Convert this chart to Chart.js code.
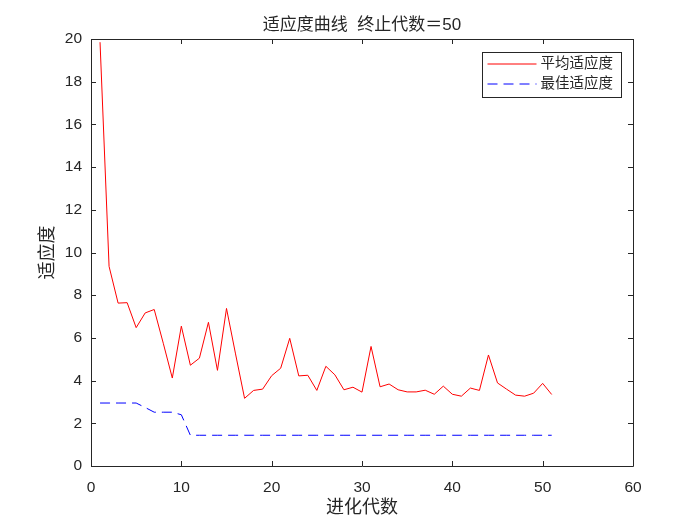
<!DOCTYPE html>
<html>
<head>
<meta charset="utf-8">
<script src="https://cdn.jsdelivr.net/npm/chart.js@4.4.1/dist/chart.umd.min.js"></script>
<style>
html,body{margin:0;padding:0;background:#fff;}
#wrap{width:700px;height:525px;}
</style>
</head>
<body>
<div id="wrap"><canvas id="c" width="700" height="525"></canvas></div>
<script>
const generations = [1,2,3,4,5,6,7,8,9,10,11,12,13,14,15,16,17,18,19,20,21,22,23,24,25,26,27,28,29,30,31,32,33,34,35,36,37,38,39,40,41,42,43,44,45,46,47,48,49,50,51];
const avgFitness = [19.85,9.35,7.63,7.65,6.48,7.17,7.33,5.75,4.12,6.55,4.72,5.05,6.73,4.48,7.38,5.25,3.17,3.54,3.60,4.23,4.58,5.98,4.22,4.25,3.54,4.67,4.27,3.57,3.69,3.46,5.60,3.71,3.84,3.57,3.47,3.47,3.55,3.36,3.74,3.36,3.27,3.65,3.54,5.20,3.89,3.60,3.32,3.27,3.41,3.87,3.35];
const bestFitness = [2.95,2.95,2.95,2.95,2.95,2.74,2.52,2.52,2.52,2.40,1.44,1.44,1.44,1.44,1.44,1.44,1.44,1.44,1.44,1.44,1.44,1.44,1.44,1.44,1.44,1.44,1.44,1.44,1.44,1.44,1.44,1.44,1.44,1.44,1.44,1.44,1.44,1.44,1.44,1.44,1.44,1.44,1.44,1.44,1.44,1.44,1.44,1.44,1.44,1.44,1.44];
const seriesLabels = ['平均适应度','最佳适应度'];
const titleText = '适应度曲线  终止代数＝50';
const xTitle = '进化代数';
const yTitle = '适应度';

const FONT = "'Liberation Sans', 'Noto Sans CJK SC', sans-serif";
const AX = '#262626';
Chart.defaults.font.family = FONT;
Chart.defaults.color = AX;

const toPts = ys => generations.map((g,i)=>({x:g,y:ys[i]}));

const boxPlugin = {
  id:'box',
  afterDraw(chart){
    const {ctx, chartArea:a, scales} = chart;
    ctx.save();
    ctx.strokeStyle = AX;
    ctx.lineWidth = 1;
    ctx.beginPath();
    ctx.rect(Math.round(a.left)+0.5, Math.round(a.top)+0.5, Math.round(a.right-a.left), Math.round(a.bottom-a.top));
    ctx.stroke();
    const tl = 5;
    ctx.beginPath();
    scales.x.ticks.forEach(t=>{
      const px = Math.round(scales.x.getPixelForValue(t.value))+0.5;
      ctx.moveTo(px, a.bottom); ctx.lineTo(px, a.bottom-tl);
      ctx.moveTo(px, a.top); ctx.lineTo(px, a.top+tl);
    });
    scales.y.ticks.forEach(t=>{
      const py = Math.round(scales.y.getPixelForValue(t.value))+0.5;
      ctx.moveTo(a.left, py); ctx.lineTo(a.left+tl, py);
      ctx.moveTo(a.right, py); ctx.lineTo(a.right-tl, py);
    });
    ctx.stroke();

    // legend
    const lx = 482.5, ly = 52.5, lw = 139, lh = 45;
    ctx.fillStyle = '#fff';
    ctx.fillRect(lx, ly, lw, lh);
    ctx.strokeStyle = AX;
    ctx.strokeRect(lx, ly, lw, lh);
    chart.data.datasets.forEach((ds,i)=>{
      const yy = ly + 11.5 + i*20;
      ctx.beginPath();
      ctx.strokeStyle = ds.borderColor;
      ctx.lineWidth = 1;
      ctx.setLineDash(ds.borderDash || []);
      ctx.moveTo(lx+5, yy); ctx.lineTo(lx+54, yy);
      ctx.stroke();
      ctx.setLineDash([]);
      ctx.fillStyle = AX;
      ctx.font = "14.5px " + FONT;
      ctx.textBaseline = 'middle';
      ctx.textAlign = 'left';
      ctx.fillText(ds.label, lx+58, yy);
    });
    ctx.restore();
  }
};

new Chart(document.getElementById('c'), {
  type:'line',
  data:{
    datasets:[
      {label:seriesLabels[0], data:toPts(avgFitness), borderColor:'#ff0000', borderWidth:1, pointRadius:0, tension:0, fill:false},
      {label:seriesLabels[1], data:toPts(bestFitness), borderColor:'#0000ff', borderWidth:1, borderDash:[10,6], pointRadius:0, tension:0, fill:false}
    ]
  },
  options:{
    responsive:false,
    animation:false,
    devicePixelRatio:1,
    layout:{padding:{left:0,right:67,top:0,bottom:0}},
    plugins:{
      legend:{display:false},
      tooltip:{enabled:false},
      title:{display:true, text:titleText, fullSize:false, color:AX, font:{size:17, weight:'normal', lineHeight:1.2}, padding:{top:15,bottom:3.6}}
    },
    scales:{
      x:{
        type:'linear', min:0, max:60,
        ticks:{stepSize:10, font:{size:15.5}, color:AX, padding:12, maxRotation:0},
        grid:{display:false, drawTicks:false},
        border:{display:false},
        title:{display:true, text:xTitle, color:AX, font:{size:18, lineHeight:1.2}, padding:{top:0,bottom:6}},
        afterFit(s){ s.height = 59; }
      },
      y:{
        min:0, max:20,
        ticks:{stepSize:2, font:{size:15.5}, color:AX, padding:9},
        grid:{display:false, drawTicks:false},
        border:{display:false},
        title:{display:true, text:yTitle, color:AX, font:{size:18, lineHeight:1.2}, padding:{top:37,bottom:0}},
        afterFit(s){ s.width = 91; }
      }
    }
  },
  plugins:[boxPlugin]
});
</script>
</body>
</html>
